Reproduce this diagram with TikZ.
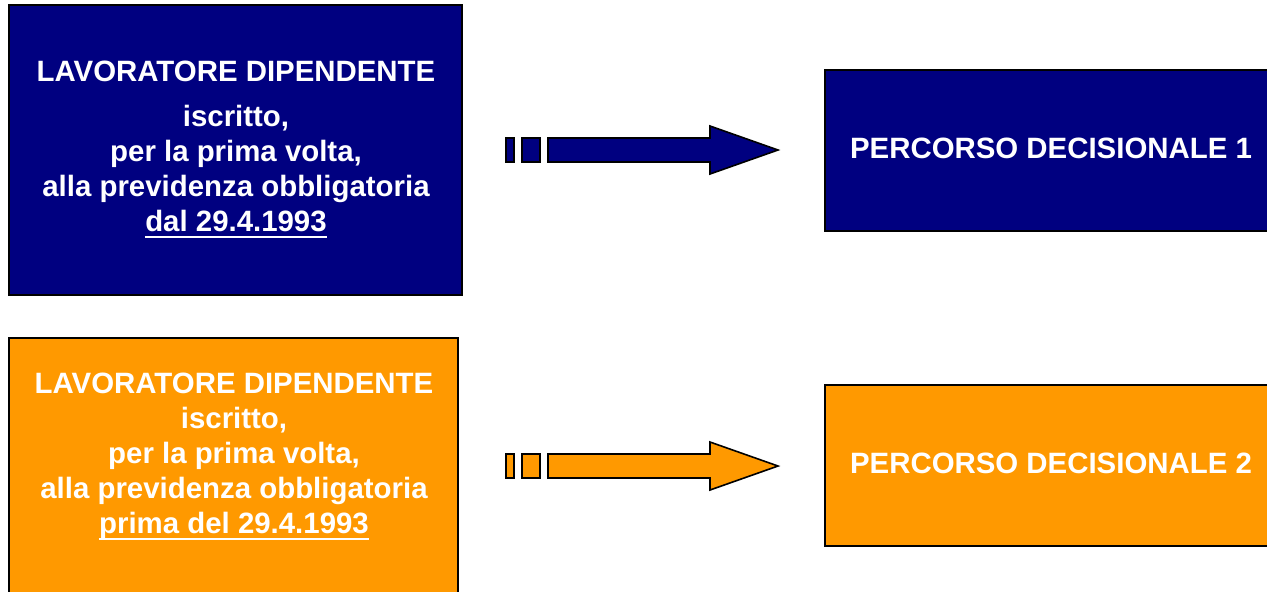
\documentclass[tikz,border=0pt]{standalone}
\usepackage{fontspec}
\setmainfont{Liberation Sans}
\definecolor{navy}{HTML}{000080}
\definecolor{orng}{HTML}{FF9900}
\begin{document}
\begin{tikzpicture}[x=0.5pt,y=-0.5pt,
  boxstyle/.style={draw=black,line width=1pt},
  arrstyle/.style={draw=black,line width=0.8pt,line join=miter},
  txt/.style={text=white,inner sep=0pt,anchor=base,font=\fontsize{14.7}{17}\selectfont\bfseries},
  uline/.style={draw=white,line width=1pt}]
\clip (0,0) rectangle (1267,591);
\fill[white] (0,0) rectangle (1267,591);
% boxes
\path[boxstyle,fill=navy] (9,5) rectangle (462,295);
\path[boxstyle,fill=orng] (9,338) rectangle (458,600);
\path[boxstyle,fill=navy] (825,70) rectangle (1280,231);
\path[boxstyle,fill=orng] (825,385) rectangle (1280,546);
% arrow 1
\path[arrstyle,fill=navy] (506,138) rectangle (514,162);
\path[arrstyle,fill=navy] (522,138) rectangle (540,162);
\path[arrstyle,fill=navy] (548,138) -- (710,138) -- (710,126) -- (778,150) -- (710,174) -- (710,162) -- (548,162) -- cycle;
% arrow 2
\path[arrstyle,fill=orng] (506,454) rectangle (514,478);
\path[arrstyle,fill=orng] (522,454) rectangle (540,478);
\path[arrstyle,fill=orng] (548,454) -- (710,454) -- (710,442) -- (778,466) -- (710,490) -- (710,478) -- (548,478) -- cycle;
% text box 1
\node[txt] (a1) at (236,81) {LAVORATORE DIPENDENTE};
\node[txt] (a2) at (236,126.5) {iscritto,};
\node[txt] (a3) at (236,161.5) {per la prima volta,};
\node[txt] (a4) at (236,196.5) {alla previdenza obbligatoria};
\node[txt] (a5) at (236,231.5) {dal 29.4.1993};
\draw[uline] ([yshift=-2.6pt]a5.base west) -- ([yshift=-2.6pt]a5.base east);
% text box 2
\node[txt] (b1) at (234,393) {LAVORATORE DIPENDENTE};
\node[txt] (b2) at (234,428) {iscritto,};
\node[txt] (b3) at (234,463) {per la prima volta,};
\node[txt] (b4) at (234,498) {alla previdenza obbligatoria};
\node[txt] (b5) at (234,533) {prima del 29.4.1993};
\draw[uline] ([yshift=-3pt]b5.base west) -- ([yshift=-3pt]b5.base east);
% right texts
\node[txt] (c1) at (1051,158) {PERCORSO DECISIONALE 1};
\node[txt] (c2) at (1051,473) {PERCORSO DECISIONALE 2};
\end{tikzpicture}
\end{document}
